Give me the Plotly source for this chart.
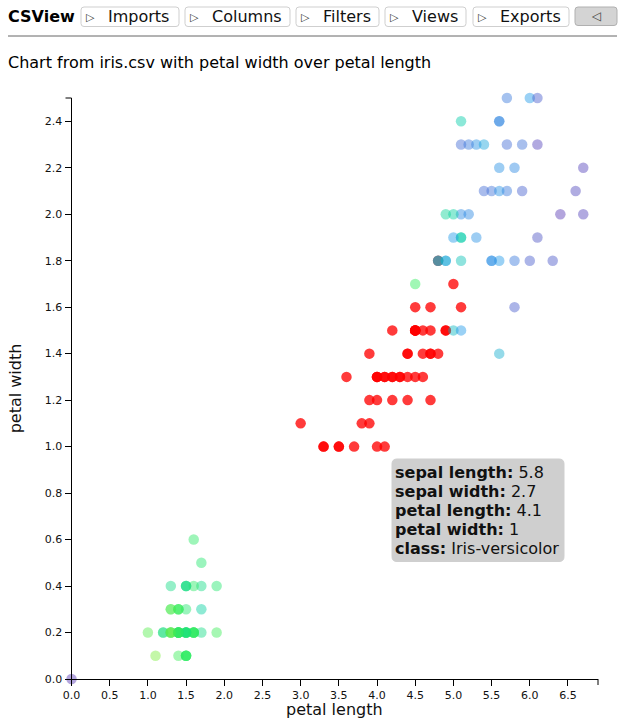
import plotly.graph_objects as go

setosa_sepal = [5.1,4.9,4.7,4.6,5.0,5.4,4.6,5.0,4.4,4.9,5.4,4.8,4.8,4.3,5.8,5.7,5.4,5.1,5.7,5.1,5.4,5.1,4.6,5.1,4.8,5.0,5.0,5.2,5.2,4.7,4.8,5.4,5.2,5.5,4.9,5.0,5.5,4.9,4.4,5.1,5.0,4.5,4.4,5.0,5.1,4.8,5.1,4.6,5.3,5.0]
setosa_length = [1.4,1.4,1.3,1.5,1.4,1.7,1.4,1.5,1.4,1.5,1.5,1.6,1.4,1.1,1.2,1.5,1.3,1.4,1.7,1.5,1.7,1.5,1.0,1.7,1.9,1.6,1.6,1.5,1.4,1.6,1.6,1.5,1.5,1.4,1.5,1.2,1.3,1.5,1.3,1.5,1.3,1.3,1.3,1.6,1.9,1.4,1.6,1.4,1.5,1.4]
setosa_width = [.2,.2,.2,.2,.2,.4,.3,.2,.2,.1,.2,.2,.1,.1,.2,.4,.4,.3,.3,.3,.2,.4,.2,.5,.2,.2,.4,.2,.2,.2,.2,.4,.1,.2,.1,.2,.2,.1,.2,.2,.3,.3,.2,.6,.4,.3,.2,.2,.2,.2]
versicolor_length = [4.7,4.5,4.9,4.0,4.6,4.5,4.7,3.3,4.6,3.9,3.5,4.2,4.0,4.7,3.6,4.4,4.5,4.1,4.5,3.9,4.8,4.0,4.9,4.7,4.3,4.4,4.8,5.0,4.5,3.5,3.8,3.7,3.9,5.1,4.5,4.5,4.7,4.4,4.1,4.0,4.4,4.6,4.0,3.3,4.2,4.2,4.2,4.3,3.0,4.1]
versicolor_width = [1.4,1.5,1.5,1.3,1.5,1.3,1.6,1.0,1.3,1.4,1.0,1.5,1.0,1.4,1.3,1.4,1.5,1.0,1.5,1.1,1.8,1.3,1.5,1.2,1.3,1.4,1.4,1.7,1.5,1.0,1.1,1.0,1.2,1.6,1.5,1.6,1.5,1.3,1.3,1.3,1.2,1.4,1.2,1.0,1.3,1.2,1.3,1.3,1.1,1.3]
virginica_sepal = [6.3,5.8,7.1,6.3,6.5,7.6,4.9,7.3,6.7,7.2,6.5,6.4,6.8,5.7,5.8,6.4,6.5,7.7,7.7,6.0,6.9,5.6,7.7,6.3,6.7,7.2,6.2,6.1,6.4,7.2,7.4,7.9,6.4,6.3,6.1,7.7,6.3,6.4,6.0,6.9,6.7,6.9,5.8,6.8,6.7,6.7,6.3,6.5,6.2,5.9]
virginica_length = [6.0,5.1,5.9,5.6,5.8,6.6,4.5,6.3,5.8,6.1,5.1,5.3,5.5,5.0,5.1,5.3,5.5,6.7,6.9,5.0,5.7,4.9,6.7,4.9,5.7,6.0,4.8,4.9,5.6,5.8,6.1,6.4,5.6,5.1,5.6,6.1,5.6,5.5,4.8,5.4,5.6,5.1,5.1,5.9,5.7,5.2,5.0,5.2,5.4,5.1]
virginica_width = [2.5,1.9,2.1,1.8,2.2,2.1,1.7,1.8,1.8,2.5,2.0,1.9,2.1,2.0,2.4,2.3,1.8,2.2,2.3,1.5,2.3,2.0,2.0,1.8,2.1,1.8,1.8,1.8,2.1,1.6,1.9,2.0,2.2,1.5,1.4,2.3,2.4,1.8,1.8,2.1,2.4,2.3,1.9,2.3,2.5,2.3,1.9,2.0,2.3,1.8]
origin_x, origin_y, origin_sepal = [0.0], [0.0], [7.9]

x_ticks = [0, .5, 1, 1.5, 2, 2.5, 3, 3.5, 4, 4.5, 5, 5.5, 6, 6.5]
y_ticks = [0, .2, .4, .6, .8, 1, 1.2, 1.4, 1.6, 1.8, 2, 2.2, 2.4]
menu_labels = ["Imports", "Columns", "Filters", "Views", "Exports"]
tooltip_rows = [("sepal length", "5.8"), ("sepal width", "2.7"), ("petal length", "4.1"), ("petal width", "1"), ("class", "Iris-versicolor")]

W, H = 625, 721
L, R, T, B = 71.5, 598, 98, 679
FONT = "DejaVu Sans"
OP = 0.45
RED_OP = 0.77
SCALE = [[0, "#7ced3e"], [0.167, "#2ced5b"], [0.417, "#00cca8"], [0.556, "#1f98e8"], [0.694, "#3e70d8"], [1, "#5637b3"]]

def xp(v): return v / W
def yp(v): return 1 - v / H

fig = go.Figure()
def scatter(xs, ys, colors, op=OP):
    fig.add_trace(go.Scatter(x=xs, y=ys, mode="markers", cliponaxis=False, showlegend=False,
        marker=dict(size=10.5, opacity=op, color=colors, cmin=4.3, cmax=7.9, colorscale=SCALE, line=dict(width=0))))
scatter(setosa_length, setosa_width, setosa_sepal)
scatter(versicolor_length, versicolor_width, "#ff0000", RED_OP)
scatter(virginica_length, virginica_width, virginica_sepal)
scatter(origin_x, origin_y, origin_sepal)

shapes, ann = [], []
def text(x, y, s, size=16, anchor="left", color="#111"):
    dx = -2 if anchor == "left" else 0
    ann.append(dict(xref="paper", yref="paper", x=xp(x + dx), y=yp(y), text=s, showarrow=False, xanchor=anchor, yanchor="middle",
                    font=dict(family=FONT, size=size, color=color), align="left"))
def rrect(x0, y0, x1, y1, r, fill, line=None):
    p = (f"M {xp(x0+r)} {yp(y0)} L {xp(x1-r)} {yp(y0)} Q {xp(x1)} {yp(y0)} {xp(x1)} {yp(y0+r)} "
         f"L {xp(x1)} {yp(y1-r)} Q {xp(x1)} {yp(y1)} {xp(x1-r)} {yp(y1)} L {xp(x0+r)} {yp(y1)} "
         f"Q {xp(x0)} {yp(y1)} {xp(x0)} {yp(y1-r)} L {xp(x0)} {yp(y0+r)} Q {xp(x0)} {yp(y0)} {xp(x0+r)} {yp(y0)} Z")
    shapes.append(dict(type="path", xref="paper", yref="paper", path=p, fillcolor=fill,
                       line=dict(color=line or fill, width=1), layer="above"))

text(8, 16.5, "<b>CSView</b>", 16, color="#000")
boxes = [(81, 179), (185, 290), (296, 379), (385, 466), (473, 569)]
for (a, b), lab in zip(boxes, menu_labels):
    rrect(a, 7, b, 26.5, 3, "#ffffff", "#cfcfcf")
    text(a + 5, 18, "▷", 11, color="#333")
    text(a + 27, 16.5, lab, 16, color="#111")
rrect(575, 7, 617, 25.5, 3, "#d4d4d4", "#b0b0b0")
text(596, 16.5, "◁", 12, "center", "#444")
shapes.append(dict(type="line", xref="paper", yref="paper", x0=xp(8), x1=xp(617), y0=yp(36), y1=yp(36), line=dict(color="#666", width=1)))
text(8, 63, "Chart from iris.csv with petal width over petal length", 16, color="#000")
text(334.5, 709.5, "petal length", 16, "center", "#111")

# tooltip
rrect(392, 459, 564, 561.5, 5, "#cfcfcf")
for i, (k, v) in enumerate(tooltip_rows):
    text(395, 472 + i * 19.2, f"<b>{k}:</b> {v}", 16, color="#111")

# outer end ticks of the axes
shapes.append(dict(type="line", xref="paper", yref="paper", x0=xp(L-6), x1=xp(L), y0=yp(T), y1=yp(T), line=dict(color="#000", width=1)))
shapes.append(dict(type="line", xref="paper", yref="paper", x0=xp(R), x1=xp(R), y0=yp(B), y1=yp(B+6), line=dict(color="#000", width=1)))

axis = dict(showgrid=False, zeroline=False, showline=True, linecolor="#000", linewidth=1, ticks="outside", ticklen=6,
            tickcolor="#000", tickfont=dict(family=FONT, size=11, color="#111"), automargin=False)
fig.update_layout(width=W, height=H, margin=dict(l=0, r=0, t=0, b=0), paper_bgcolor="#fff", plot_bgcolor="#fff",
    xaxis=dict(axis, domain=[xp(L), xp(R)], range=[0, 6.893], tickvals=x_ticks, ticktext=[f"{v:.1f}" for v in x_ticks]),
    yaxis=dict(axis, domain=[yp(B), yp(T)], range=[0, 2.5], tickvals=y_ticks, ticktext=[f"{v:.1f}" for v in y_ticks],
               title=dict(text="petal width", font=dict(family=FONT, size=16, color="#111"), standoff=19)),
    shapes=shapes, annotations=ann, hovermode=False)
fig.write_html("out.html", config=dict(displayModeBar=False),
               post_script="document.body.style.margin='0';")
